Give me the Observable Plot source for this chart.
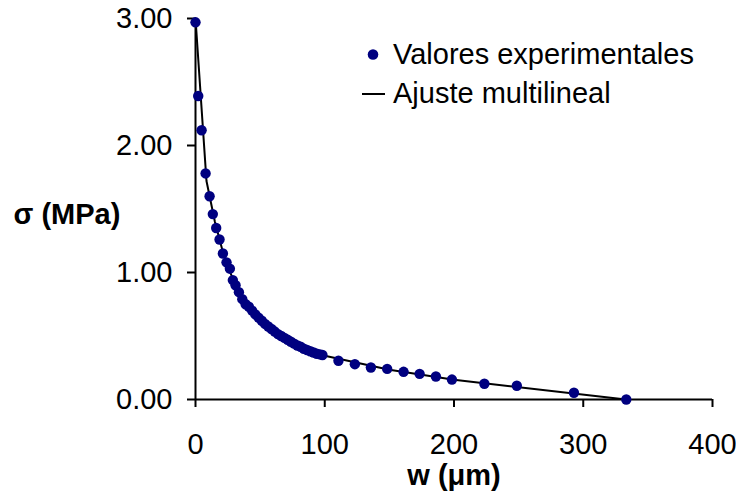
<!DOCTYPE html>
<html>
<head>
<meta charset="utf-8">
<script src="https://cdn.jsdelivr.net/npm/d3@7"></script>
<script src="https://cdn.jsdelivr.net/npm/@observablehq/plot@0.6"></script>
<style>
  body { margin: 0; background: #fff; }
  #wrap { position: relative; width: 736px; height: 501px; }
  #wrap svg { position: absolute; left: 0; top: 0; }
</style>
</head>
<body>
<div id="wrap"></div>
<script>
// Experimental values: w (µm) and sigma (MPa)
const expW = [0, 2.1, 4.7, 7.8, 10.9, 13.4, 16, 18.6, 21.2, 24, 26.6, 28.9, 31, 33.6, 36.2, 38.8,
  41.3, 43.8, 46.3, 48.8, 51.3, 53.8, 56.3, 58.8, 61.3, 63.8, 66.3, 68.8, 71.3, 73.8, 76.3, 78.8,
  81.3, 83.8, 86.3, 88.8, 91.3, 93.8, 96.3, 98.2,
  110.6, 123.3, 135.7, 148.3, 161, 173.4, 186, 198.4, 223.5, 248.6, 292.8, 333.3];
const expS = [2.97, 2.39, 2.12, 1.78, 1.60, 1.46, 1.35, 1.26, 1.15, 1.08, 1.03, 0.94, 0.90, 0.845, 0.79, 0.75,
  0.73, 0.70, 0.67, 0.645, 0.62, 0.595, 0.575, 0.555, 0.535, 0.515, 0.50, 0.485, 0.47, 0.455, 0.44, 0.425,
  0.415, 0.40, 0.39, 0.38, 0.37, 0.36, 0.355, 0.35,
  0.305, 0.278, 0.252, 0.241, 0.218, 0.202, 0.181, 0.157, 0.124, 0.108, 0.053, 0.0];

// Multilinear fit vertices
const fitW = [0, 8.5, 15, 22, 30, 40, 55, 70, 85, 100, 150, 200, 333];
const fitS = [3.0, 1.72, 1.40, 1.13, 0.92, 0.74, 0.59, 0.48, 0.40, 0.345, 0.235, 0.156, 0.0];

const xTicks = [0, 100, 200, 300, 400];
const yTicks = [0, 1, 2, 3];
const seriesNames = ["Valores experimentales", "Ajuste multilineal"];
const xLabel = "w (\u03bcm)";
const yLabel = "\u03c3 (MPa)";

const expData = expW.map((w, i) => ({w, s: expS[i]}));
const fitData = fitW.map((w, i) => ({w, s: fitS[i]}));

const FONT = "'Liberation Sans', Arial, sans-serif";
const FS = 29;

const chart = Plot.plot({
  width: 736,
  height: 501,
  marginLeft: 195,
  marginRight: 24,
  marginTop: 18,
  marginBottom: 102,
  style: { fontFamily: FONT, fontSize: FS + "px", color: "#000", background: "#fff", overflow: "visible" },
  x: { domain: [0, 400] },
  y: { domain: [0, 3] },
  marks: [
    Plot.axisX({ ticks: xTicks, tickSize: 8, tickPadding: 26, strokeWidth: 2, label: null, fontSize: FS }),
    Plot.axisY({ ticks: yTicks, tickSize: 8, tickPadding: 15, strokeWidth: 2, label: null, fontSize: FS,
                 tickFormat: d => d.toFixed(2) }),
    Plot.ruleX([0], { stroke: "#000", strokeWidth: 2 }),
    Plot.ruleY([0], { stroke: "#000", strokeWidth: 2 }),
    Plot.line(fitData, { x: "w", y: "s", stroke: "#000", strokeWidth: 2 }),
    Plot.dot(expData, { x: "w", y: "s", r: 5.2, fill: "#000080", stroke: "none" }),
    Plot.text([xLabel], { frameAnchor: "bottom", dy: 85, fontWeight: "bold", fontSize: FS, fill: "#000" }),
    Plot.text([yLabel], { frameAnchor: "left", dx: -182, dy: 6, textAnchor: "start", fontWeight: "bold", fontSize: FS, fill: "#000" })
  ]
});

const wrap = document.getElementById("wrap");
wrap.appendChild(chart);

// Legend overlay
const leg = d3.select(wrap).append("svg")
  .attr("width", 736).attr("height", 501)
  .style("pointer-events", "none")
  .attr("font-family", FONT).attr("font-size", FS);
leg.append("circle").attr("cx", 373).attr("cy", 54.5).attr("r", 5.3).attr("fill", "#000080");
leg.append("text").attr("x", 393).attr("y", 64).text(seriesNames[0]);
leg.append("line").attr("x1", 362).attr("x2", 385).attr("y1", 94).attr("y2", 94)
  .attr("stroke", "#000").attr("stroke-width", 2);
leg.append("text").attr("x", 393).attr("y", 103).text(seriesNames[1]);
</script>
</body>
</html>
